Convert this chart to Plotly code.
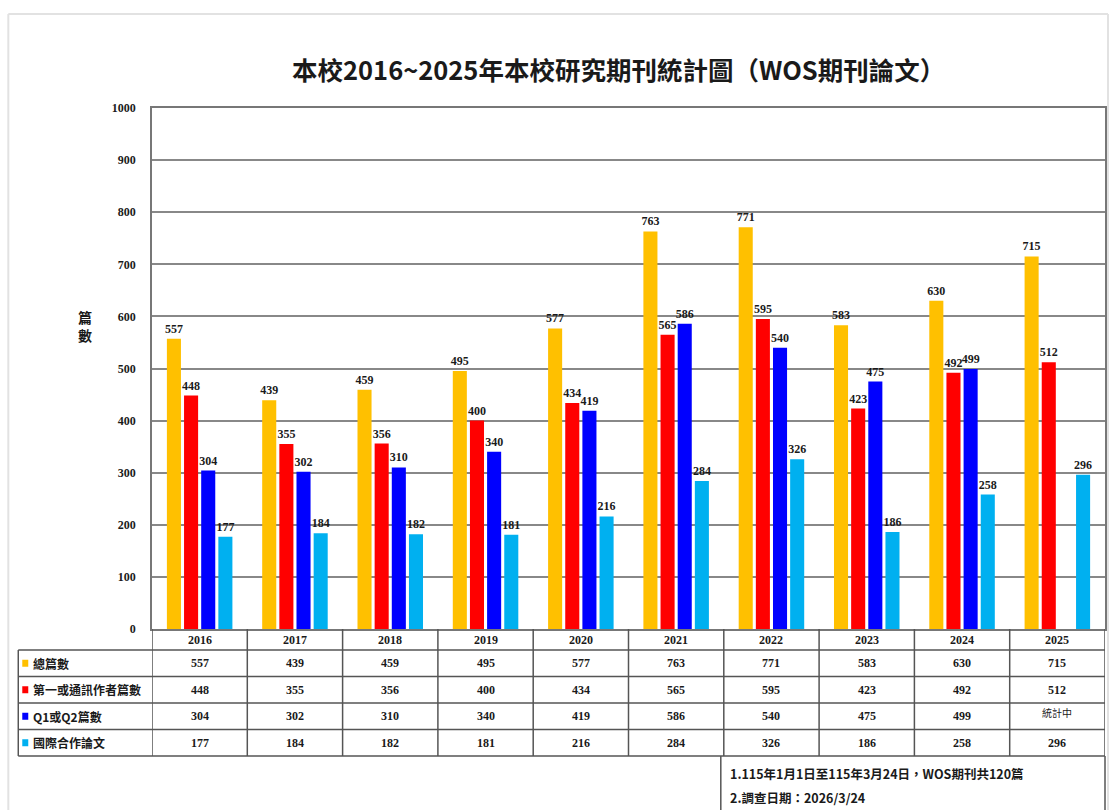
import plotly.graph_objects as go

years = ['2016', '2017', '2018', '2019', '2020', '2021', '2022', '2023', '2024', '2025']
series_names = ['總篇數', '第一或通訊作者篇數', 'Q1或Q2篇數', '國際合作論文']
total = [557, 439, 459, 495, 577, 763, 771, 583, 630, 715]
first_author = [448, 355, 356, 400, 434, 565, 595, 423, 492, 512]
q1q2 = [304, 302, 310, 340, 419, 586, 540, 475, 499, None]
intl = [177, 184, 182, 181, 216, 284, 326, 186, 258, 296]
colors = ['#FFC000', '#FF0000', '#0000FF', '#00B0F0']
pending_text = '統計中'
title_text = '本校2016~2025年本校研究期刊統計圖（WOS期刊論文）'
note_lines = ['1.115年1月1日至115年3月24日，WOS期刊共120篇', '2.調查日期：2026/3/24']

W, H = 1111, 810
L, R, T, B = 152, 1107, 108, 629
PW, PH = R - L, B - T


def px(x):
    return (x - L) / PW


def py(y):
    return (B - y) / PH


serif = 'Liberation Serif'
cjk = 'Noto Sans CJK TC'
txt_col = '#1a1a1a'

fig = go.Figure()
all_series = [total, first_author, q1q2, intl]
for name, vals, c in zip(series_names, all_series, colors):
    fig.add_trace(go.Bar(
        x=years, y=vals, name=name, marker=dict(color=c, line=dict(width=0)),
        text=[('' if v is None else str(v)) for v in vals],
        textposition='outside', constraintext='none', cliponaxis=False,
        textfont=dict(family=serif, size=12, color=txt_col, weight='bold'),
        hoverinfo='skip',
    ))

shapes = []
annotations = []
line_col = '#555555'
frame_col = '#e2e2e2'
# outer frame (top, left, right edges)
shapes.append(dict(type='line', xref='paper', yref='paper', x0=px(8), x1=px(1110),
                   y0=py(14), y1=py(14), line=dict(color=frame_col, width=2), layer='below'))
shapes.append(dict(type='line', xref='paper', yref='paper', x0=px(8), x1=px(8),
                   y0=py(14), y1=py(812), line=dict(color=frame_col, width=2), layer='below'))
shapes.append(dict(type='line', xref='paper', yref='paper', x0=px(1110), x1=px(1110),
                   y0=py(14), y1=py(812), line=dict(color=frame_col, width=2), layer='below'))

# table geometry
row_edges = [650, 676.5, 703, 729.5, 756]
tab_left = 18
n = len(years)
for i in range(n + 1):
    shapes.append(dict(type='line', xref='x', yref='paper', x0=i - 0.5, x1=i - 0.5,
                       y0=py(629), y1=py(756), line=dict(color=line_col, width=1.5)))
shapes.append(dict(type='line', xref='paper', yref='paper', x0=px(tab_left), x1=px(tab_left),
                   y0=py(650), y1=py(756), line=dict(color=line_col, width=1.5)))
for ye in row_edges:
    shapes.append(dict(type='line', xref='paper', yref='paper', x0=px(tab_left), x1=1,
                       y0=py(ye), y1=py(ye), line=dict(color=line_col, width=1.5)))
# footnote box
shapes.append(dict(type='line', xref='paper', yref='paper', x0=px(722), x1=px(722),
                   y0=py(756), y1=py(812), line=dict(color=line_col, width=1.5)))
shapes.append(dict(type='line', xref='paper', yref='paper', x0=1, x1=1,
                   y0=py(756), y1=py(812), line=dict(color=line_col, width=1.5)))

# year labels
for i, yr in enumerate(years):
    annotations.append(dict(x=i, y=py(640), xref='x', yref='paper', text=yr, showarrow=False,
                            xanchor='center', yanchor='middle',
                            font=dict(family=serif, size=12, color=txt_col, weight='bold')))
# table rows
for r, (name, vals, c) in enumerate(zip(series_names, all_series, colors)):
    yc = (row_edges[r] + row_edges[r + 1]) / 2
    shapes.append(dict(type='rect', xref='paper', yref='paper', x0=px(22), x1=px(28),
                       y0=py(yc + 3.5), y1=py(yc - 3.5), fillcolor=c, line=dict(width=0)))
    annotations.append(dict(x=px(31), y=py(yc), xref='paper', yref='paper', text=name,
                            showarrow=False, xanchor='left', yanchor='middle',
                            font=dict(family=cjk, size=12, color=txt_col, weight='bold')))
    for i, v in enumerate(vals):
        if v is None:
            annotations.append(dict(x=i, y=py(yc - 4), xref='x', yref='paper', text=pending_text,
                                    showarrow=False, xanchor='center', yanchor='middle',
                                    font=dict(family=cjk, size=10, color=txt_col)))
        else:
            annotations.append(dict(x=i, y=py(yc), xref='x', yref='paper', text=str(v),
                                    showarrow=False, xanchor='center', yanchor='middle',
                                    font=dict(family=serif, size=12, color=txt_col, weight='bold')))

# footnote text
for k, line in enumerate(note_lines):
    annotations.append(dict(x=px(729), y=py(773 + 24 * k), xref='paper', yref='paper', text=line,
                            showarrow=False, xanchor='left', yanchor='middle',
                            font=dict(family=cjk, size=12.5, color=txt_col, weight='bold')))

# y axis title
annotations.append(dict(x=px(85), y=py(326), xref='paper', yref='paper', text='篇<br>數',
                        showarrow=False, xanchor='center', yanchor='middle',
                        font=dict(family=cjk, size=14, color=txt_col, weight='bold')))

# title
annotations.append(dict(x=px(619), y=py(68), xref='paper', yref='paper', text=title_text,
                        showarrow=False, xanchor='center', yanchor='middle',
                        font=dict(family=cjk, size=25.5, color=txt_col, weight='bold')))

fig.update_layout(
    width=W, height=H,
    margin=dict(l=L, r=W - R, t=T, b=H - B),
    paper_bgcolor='white', plot_bgcolor='white',
    showlegend=False, hovermode=False,
    barmode='group', bargap=0.28, bargroupgap=0.18,
    shapes=shapes, annotations=annotations,
)
fig.update_xaxes(showticklabels=False, ticks='', showline=True, linecolor='#777', linewidth=1.5,
                 mirror=True, showgrid=False, range=[-0.5, n - 0.5])
fig.update_yaxes(range=[0, 1000], dtick=100, showgrid=True, gridcolor='#888', gridwidth=1.5,
                 showline=True, linecolor='#777', linewidth=1.5, mirror=True, zeroline=False,
                 tickfont=dict(family=serif, size=12, color=txt_col, weight='bold'), ticks='',
                 ticklabelstandoff=12)

fig.write_html('out.html', config={'displayModeBar': False},
               post_script="document.body.style.margin='0';document.body.style.overflow='hidden';")
